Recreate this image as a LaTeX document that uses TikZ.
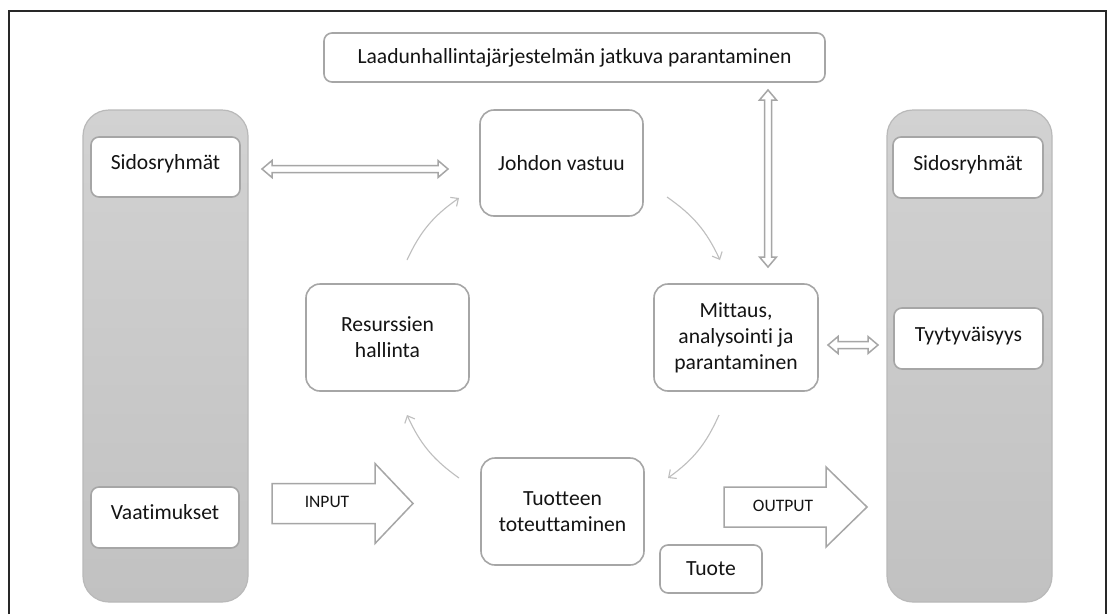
\documentclass[tikz,border=0pt]{standalone}
\usepackage{fontspec}
\setmainfont{Carlito}[Ligatures={NoCommon,NoRare}]
\usetikzlibrary{arrows.meta}
\definecolor{boxline}{RGB}{166,166,166}
\definecolor{colline}{RGB}{185,185,185}
\definecolor{coltop}{RGB}{210,210,210}
\definecolor{colbot}{RGB}{193,193,193}
\definecolor{txt}{RGB}{20,20,20}
\definecolor{flowc}{RGB}{190,190,190}
\definecolor{framec}{RGB}{40,40,40}
\newcommand\hdblarrow[3]{\draw[hollow] (#1,#3) -- ({#1+10},{#3-8.5}) -- ({#1+10},{#3-3.5}) -- ({#2-10},{#3-3.5}) -- ({#2-10},{#3-8.5}) -- (#2,#3) -- ({#2-10},{#3+8.5}) -- ({#2-10},{#3+3.5}) -- ({#1+10},{#3+3.5}) -- ({#1+10},{#3+8.5}) -- cycle;}
\newcommand\vdblarrow[3]{\draw[hollow] (#3,#1) -- ({#3-8.5},{#1+10}) -- ({#3-3.5},{#1+10}) -- ({#3-3.5},{#2-10}) -- ({#3-8.5},{#2-10}) -- (#3,#2) -- ({#3+8.5},{#2-10}) -- ({#3+3.5},{#2-10}) -- ({#3+3.5},{#1+10}) -- ({#3+8.5},{#1+10}) -- cycle;}
\newcommand\upraise[1]{\raisebox{3pt}[\height][\depth]{#1}}
\begin{document}
\begin{tikzpicture}[x=1pt,y=-1pt,
  every node/.style={font=\fontsize{21.6}{26}\selectfont, text=txt},
  box/.style={draw=boxline, line width=1.6pt, fill=white, rounded corners=14pt, align=center, inner sep=0pt},
  smallbox/.style={box, rounded corners=8pt},
  column/.style={draw=colline, line width=1.2pt, top color=coltop, bottom color=colbot, rounded corners=26pt, inner sep=0pt},
  cyclearrow/.style={draw=flowc, line width=1.1pt, -{Straight Barb[length=6pt,width=11pt]}, bend left=15},
  hollow/.style={draw=boxline, line width=1.5pt, fill=white, line join=miter},
  io/.style={font=\fontsize{17.5}{20}\selectfont}
]
\useasboundingbox (0,0) rectangle (1112,614);
\fill[white] (0,0) rectangle (1112,614);
\draw[framec, line width=2pt] (9,614) -- (9,11) -- (1106,11) -- (1106,614);

% side columns
\node[column, minimum width=165pt, minimum height=492pt] (lcol) at (165.5,356) {};
\node[column, minimum width=165pt, minimum height=492pt] (rcol) at (969.5,356) {};
\node[smallbox, minimum width=149pt, minimum height=60pt] (sidl) at (165.5,167) {\upraise{Sidosryhmät}};
\node[smallbox, minimum width=148pt, minimum height=61pt] (vaat) at (165,517.5) {\raisebox{5pt}[\height][\depth]{Vaatimukset}};
\node[smallbox, minimum width=150pt, minimum height=61pt] (sidr) at (968,167.5) {\upraise{Sidosryhmät}};
\node[smallbox, minimum width=149pt, minimum height=61pt] (tyyt) at (968.5,338.5) {\upraise{Tyytyväisyys}};

% main boxes
\node[smallbox, minimum width=501pt, minimum height=49pt] (top) at (574.5,57.5) {Laadunhallintajärjestelmän jatkuva parantaminen};
\node[box, minimum width=163pt, minimum height=106pt] (joh) at (561.5,163) {Johdon vastuu};
\node[box, minimum width=163pt, minimum height=107pt] (res) at (387.5,337.5) {Resurssien\\hallinta};
\node[box, minimum width=164pt, minimum height=107pt] (mit) at (736,337.5) {Mittaus,\\analysointi ja\\parantaminen};
\node[box, minimum width=163pt, minimum height=107pt] (tuot) at (562.5,511.5) {Tuotteen\\toteuttaminen};
\node[smallbox, minimum width=102pt, minimum height=48pt] (tuote) at (711,569) {Tuote};

% double arrows
\hdblarrow{262}{448}{169}
\hdblarrow{828}{878}{345}
\vdblarrow{90}{267}{768}

% INPUT / OUTPUT block arrows
\draw[hollow] (272,483.5) -- (375,483.5) -- (375,463.5) -- (413,503.5) -- (375,543.5) -- (375,523.5) -- (272,523.5) -- cycle;
\node[io] (inlbl) at (327,502) {INPUT};
\draw[hollow] (724,487) -- (826,487) -- (826,467) -- (867,507) -- (826,547) -- (826,527) -- (724,527) -- cycle;
\node[io] (outlbl) at (783,506) {OUTPUT};

% cycle arrows
\coordinate (c1s) at (407,260); \coordinate (c1e) at (459,198);
\coordinate (c2s) at (667,197); \coordinate (c2e) at (720,260);
\coordinate (c3s) at (719,415); \coordinate (c3e) at (668,478);
\coordinate (c4s) at (459,478); \coordinate (c4e) at (407,415);
\draw[cyclearrow] (c1s) to (c1e);
\draw[cyclearrow] (c2s) to (c2e);
\draw[cyclearrow] (c3s) to (c3e);
\draw[cyclearrow] (c4s) to (c4e);
\end{tikzpicture}
\end{document}
